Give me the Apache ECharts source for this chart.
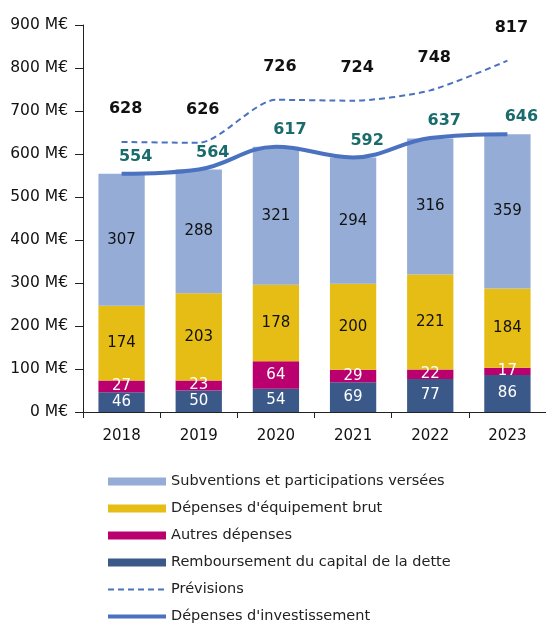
<!DOCTYPE html>
<html>
<head>
<meta charset="utf-8">
<script src="https://cdn.jsdelivr.net/npm/echarts@6/dist/echarts.min.js"></script>
<style>
  html, body { margin: 0; padding: 0; background: #fff; }
  #chart { width: 546px; height: 628px; }
</style>
</head>
<body>
<div id="chart"></div>
<script>
const years = ['2018', '2019', '2020', '2021', '2022', '2023'];
const remboursement = [46, 50, 54, 69, 77, 86];
const autres = [27, 23, 64, 29, 22, 17];
const equipement = [174, 203, 178, 200, 221, 184];
const subventions = [307, 288, 321, 294, 316, 359];
const investissement = [554, 564, 617, 592, 637, 646];
const previsions = [628, 626, 726, 724, 748, 817];

const font = 'DejaVu Sans';

const barLabel = (color) => ({
  show: true,
  position: 'inside',
  color: color,
  fontFamily: font,
  fontSize: 15
});

const chart = echarts.init(document.getElementById('chart'));

const option = {
  animation: false,
  textStyle: { fontFamily: font },
  grid: { left: 83, right: 0, top: 25, bottom: 216 },
  legend: {
    orient: 'vertical',
    left: 101,
    top: 469,
    height: 160,
    itemWidth: 58,
    itemHeight: 8,
    itemGap: 12,
    textStyle: { fontFamily: font, fontSize: 14.5, color: '#222' },
    data: [
      { name: 'Subventions et participations versées', icon: 'rect' },
      { name: "Dépenses d'équipement brut", icon: 'rect' },
      { name: 'Autres dépenses', icon: 'rect' },
      { name: 'Remboursement du capital de la dette', icon: 'rect' },
      { name: 'Prévisions', itemStyle: { opacity: 0 } },
      { name: "Dépenses d'investissement", itemStyle: { opacity: 0 }, lineStyle: { width: 4 } }
    ]
  },
  xAxis: {
    type: 'category',
    data: years,
    axisLine: { lineStyle: { color: '#222' } },
    axisTick: { show: true, length: 6, lineStyle: { color: '#222' } },
    axisLabel: { color: '#111', fontFamily: font, fontSize: 15, margin: 17 }
  },
  yAxis: {
    type: 'value',
    min: 0,
    max: 900,
    interval: 100,
    splitLine: { show: false },
    axisLine: { show: true, lineStyle: { color: '#222' } },
    axisTick: { show: true, length: 8, lineStyle: { color: '#222' } },
    axisLabel: {
      color: '#111',
      fontFamily: font,
      fontSize: 15.5,
      margin: 15,
      formatter: '{value} M€'
    }
  },
  series: [
    {
      name: 'Remboursement du capital de la dette',
      type: 'bar',
      stack: 'total',
      barWidth: '60%',
      data: remboursement,
      itemStyle: { color: '#3A5888' },
      label: barLabel('#fff')
    },
    {
      name: 'Autres dépenses',
      type: 'bar',
      stack: 'total',
      data: autres,
      itemStyle: { color: '#BA006E' },
      label: barLabel('#fff')
    },
    {
      name: "Dépenses d'équipement brut",
      type: 'bar',
      stack: 'total',
      data: equipement,
      itemStyle: { color: '#E6BD14' },
      label: barLabel('#111')
    },
    {
      name: 'Subventions et participations versées',
      type: 'bar',
      stack: 'total',
      data: subventions,
      itemStyle: { color: '#94ACD6' },
      label: barLabel('#111')
    },
    {
      name: 'Prévisions',
      type: 'line',
      data: previsions,
      symbol: 'circle',
      symbolSize: 0,
      showSymbol: true,
      smooth: 0.25,
      lineStyle: { color: '#4A72C0', width: 2, type: [6, 4] },
      itemStyle: { color: '#4A72C0' },
      label: {
        show: true,
        position: 'top',
        offset: [4, -20],
        color: '#111',
        fontWeight: 'bold',
        fontFamily: font,
        fontSize: 16
      },
      z: 5
    },
    {
      name: "Dépenses d'investissement",
      type: 'line',
      data: investissement,
      symbol: 'circle',
      symbolSize: 0,
      showSymbol: true,
      smooth: 0.4,
      lineStyle: { color: '#4A72C0', width: 4 },
      itemStyle: { color: '#4A72C0' },
      label: {
        show: true,
        position: 'top',
        offset: [14, -4],
        color: '#1A6B6B',
        fontWeight: 'bold',
        fontFamily: font,
        fontSize: 16
      },
      z: 6
    }
  ]
};

chart.setOption(option);
</script>
</body>
</html>
